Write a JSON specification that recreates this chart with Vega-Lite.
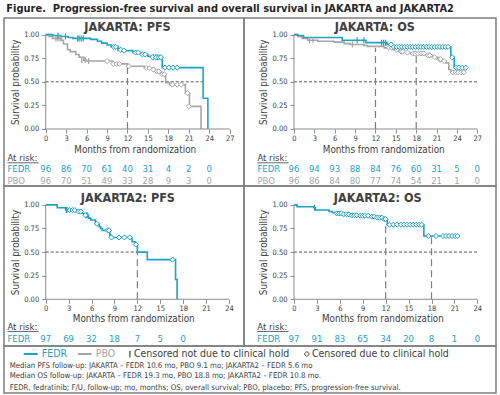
{
"$schema": "https://vega.github.io/schema/vega-lite/v6.json",
"padding": {"left": 3, "top": 3, "right": 4, "bottom": 2},
"background": "white",
"title": {"text": "Figure.\u00a0 Progression-free survival and overall survival in JAKARTA and JAKARTA2", "anchor": "start", "fontSize": 11, "fontWeight": "bold", "color": "#262626", "offset": 3, "dx": 3},
"datasets": {
"km": [
{"p":"A","arm":"FEDR","month":0,"surv":1},{"p":"A","arm":"FEDR","month":1.0,"surv":0.99},{"p":"A","arm":"FEDR","month":2.2,"surv":0.98},{"p":"A","arm":"FEDR","month":3.3,"surv":0.97},{"p":"A","arm":"FEDR","month":4.0,"surv":0.96},{"p":"A","arm":"FEDR","month":6.6,"surv":0.95},{"p":"A","arm":"FEDR","month":7.6,"surv":0.93},{"p":"A","arm":"FEDR","month":8.2,"surv":0.91},{"p":"A","arm":"FEDR","month":9.0,"surv":0.89},{"p":"A","arm":"FEDR","month":9.6,"surv":0.87},{"p":"A","arm":"FEDR","month":10.4,"surv":0.855},{"p":"A","arm":"FEDR","month":10.9,"surv":0.84},{"p":"A","arm":"FEDR","month":11.3,"surv":0.83},{"p":"A","arm":"FEDR","month":12.8,"surv":0.81},{"p":"A","arm":"FEDR","month":14.0,"surv":0.79},{"p":"A","arm":"FEDR","month":15.0,"surv":0.77},{"p":"A","arm":"FEDR","month":15.5,"surv":0.76},{"p":"A","arm":"FEDR","month":17.1,"surv":0.65},{"p":"A","arm":"FEDR","month":23.1,"surv":0.325},{"p":"A","arm":"FEDR","month":23.8,"surv":0},
{"p":"A","arm":"PBO","month":0,"surv":1},{"p":"A","arm":"PBO","month":0.5,"surv":0.98},{"p":"A","arm":"PBO","month":1.0,"surv":0.96},{"p":"A","arm":"PBO","month":2.3,"surv":0.94},{"p":"A","arm":"PBO","month":2.6,"surv":0.9},{"p":"A","arm":"PBO","month":3.2,"surv":0.84},{"p":"A","arm":"PBO","month":3.6,"surv":0.82},{"p":"A","arm":"PBO","month":4.4,"surv":0.79},{"p":"A","arm":"PBO","month":4.9,"surv":0.76},{"p":"A","arm":"PBO","month":5.6,"surv":0.73},{"p":"A","arm":"PBO","month":6.0,"surv":0.72},{"p":"A","arm":"PBO","month":9.8,"surv":0.69},{"p":"A","arm":"PBO","month":12.0,"surv":0.665},{"p":"A","arm":"PBO","month":14.5,"surv":0.645},{"p":"A","arm":"PBO","month":15.6,"surv":0.63},{"p":"A","arm":"PBO","month":16.1,"surv":0.61},{"p":"A","arm":"PBO","month":16.9,"surv":0.58},{"p":"A","arm":"PBO","month":17.6,"surv":0.49},{"p":"A","arm":"PBO","month":18.2,"surv":0.47},{"p":"A","arm":"PBO","month":20.5,"surv":0.38},{"p":"A","arm":"PBO","month":21.1,"surv":0.24},{"p":"A","arm":"PBO","month":22.8,"surv":0},
{"p":"B","arm":"FEDR","month":0,"surv":1},{"p":"B","arm":"FEDR","month":0.5,"surv":0.99},{"p":"B","arm":"FEDR","month":1.4,"surv":0.97},{"p":"B","arm":"FEDR","month":7.1,"surv":0.94},{"p":"B","arm":"FEDR","month":10.6,"surv":0.915},{"p":"B","arm":"FEDR","month":13.7,"surv":0.895},{"p":"B","arm":"FEDR","month":14.5,"surv":0.87},{"p":"B","arm":"FEDR","month":23.1,"surv":0.76},{"p":"B","arm":"FEDR","month":23.6,"surv":0.65},{"p":"B","arm":"FEDR","month":25.3,"surv":0.65},
{"p":"B","arm":"PBO","month":0,"surv":1},{"p":"B","arm":"PBO","month":0.6,"surv":0.98},{"p":"B","arm":"PBO","month":1.2,"surv":0.96},{"p":"B","arm":"PBO","month":2.0,"surv":0.94},{"p":"B","arm":"PBO","month":3.5,"surv":0.93},{"p":"B","arm":"PBO","month":5.9,"surv":0.92},{"p":"B","arm":"PBO","month":7.4,"surv":0.905},{"p":"B","arm":"PBO","month":8.3,"surv":0.895},{"p":"B","arm":"PBO","month":10.3,"surv":0.885},{"p":"B","arm":"PBO","month":10.8,"surv":0.875},{"p":"B","arm":"PBO","month":13.3,"surv":0.86},{"p":"B","arm":"PBO","month":14.7,"surv":0.84},{"p":"B","arm":"PBO","month":15.5,"surv":0.82},{"p":"B","arm":"PBO","month":16.3,"surv":0.81},{"p":"B","arm":"PBO","month":17.2,"surv":0.8},{"p":"B","arm":"PBO","month":19.4,"surv":0.78},{"p":"B","arm":"PBO","month":20.4,"surv":0.76},{"p":"B","arm":"PBO","month":21.1,"surv":0.74},{"p":"B","arm":"PBO","month":21.8,"surv":0.72},{"p":"B","arm":"PBO","month":22.4,"surv":0.7},{"p":"B","arm":"PBO","month":22.8,"surv":0.63},{"p":"B","arm":"PBO","month":23.1,"surv":0.6},{"p":"B","arm":"PBO","month":25.0,"surv":0.6},
{"p":"C","arm":"FEDR","month":0,"surv":1},{"p":"C","arm":"FEDR","month":1.5,"surv":0.97},{"p":"C","arm":"FEDR","month":2.6,"surv":0.945},{"p":"C","arm":"FEDR","month":4.1,"surv":0.93},{"p":"C","arm":"FEDR","month":4.8,"surv":0.91},{"p":"C","arm":"FEDR","month":5.0,"surv":0.89},{"p":"C","arm":"FEDR","month":5.6,"surv":0.86},{"p":"C","arm":"FEDR","month":5.9,"surv":0.84},{"p":"C","arm":"FEDR","month":6.5,"surv":0.8},{"p":"C","arm":"FEDR","month":7.0,"surv":0.77},{"p":"C","arm":"FEDR","month":7.2,"surv":0.75},{"p":"C","arm":"FEDR","month":7.4,"surv":0.73},{"p":"C","arm":"FEDR","month":8.4,"surv":0.68},{"p":"C","arm":"FEDR","month":8.5,"surv":0.655},{"p":"C","arm":"FEDR","month":11.3,"surv":0.61},{"p":"C","arm":"FEDR","month":11.7,"surv":0.58},{"p":"C","arm":"FEDR","month":12.0,"surv":0.5},{"p":"C","arm":"FEDR","month":13.3,"surv":0.42},{"p":"C","arm":"FEDR","month":17.0,"surv":0.21},{"p":"C","arm":"FEDR","month":17.2,"surv":0},
{"p":"D","arm":"FEDR","month":0,"surv":1},{"p":"D","arm":"FEDR","month":0.4,"surv":0.98},{"p":"D","arm":"FEDR","month":2.6,"surv":0.97},{"p":"D","arm":"FEDR","month":2.8,"surv":0.945},{"p":"D","arm":"FEDR","month":4.6,"surv":0.93},{"p":"D","arm":"FEDR","month":5.0,"surv":0.92},{"p":"D","arm":"FEDR","month":5.5,"surv":0.91},{"p":"D","arm":"FEDR","month":6.3,"surv":0.9},{"p":"D","arm":"FEDR","month":7.4,"surv":0.89},{"p":"D","arm":"FEDR","month":8.5,"surv":0.885},{"p":"D","arm":"FEDR","month":10.0,"surv":0.875},{"p":"D","arm":"FEDR","month":10.7,"surv":0.865},{"p":"D","arm":"FEDR","month":11.6,"surv":0.85},{"p":"D","arm":"FEDR","month":12.2,"surv":0.79},{"p":"D","arm":"FEDR","month":17.0,"surv":0.67},{"p":"D","arm":"FEDR","month":21.4,"surv":0.67}
],
"cens": [
{"p":"A","arm":"PBO","kind":"other","month":1.5,"surv":0.96},{"p":"A","arm":"PBO","kind":"other","month":1.8,"surv":0.96},{"p":"A","arm":"PBO","kind":"other","month":2.1,"surv":0.96},{"p":"A","arm":"PBO","kind":"other","month":5.3,"surv":0.73},{"p":"A","arm":"PBO","kind":"other","month":5.8,"surv":0.73},{"p":"A","arm":"PBO","kind":"other","month":6.3,"surv":0.72},
{"p":"A","arm":"PBO","kind":"hold","month":9.0,"surv":0.72},{"p":"A","arm":"PBO","kind":"hold","month":9.9,"surv":0.69},{"p":"A","arm":"PBO","kind":"hold","month":10.4,"surv":0.69},{"p":"A","arm":"PBO","kind":"hold","month":10.8,"surv":0.69},{"p":"A","arm":"PBO","kind":"hold","month":12.2,"surv":0.665},{"p":"A","arm":"PBO","kind":"hold","month":14.8,"surv":0.645},{"p":"A","arm":"PBO","kind":"hold","month":15.2,"surv":0.645},{"p":"A","arm":"PBO","kind":"hold","month":15.8,"surv":0.63},{"p":"A","arm":"PBO","kind":"hold","month":16.3,"surv":0.61},{"p":"A","arm":"PBO","kind":"hold","month":16.6,"surv":0.61},{"p":"A","arm":"PBO","kind":"hold","month":17.1,"surv":0.58},{"p":"A","arm":"PBO","kind":"hold","month":17.4,"surv":0.58},{"p":"A","arm":"PBO","kind":"hold","month":18.6,"surv":0.47},{"p":"A","arm":"PBO","kind":"hold","month":19.3,"surv":0.47},{"p":"A","arm":"PBO","kind":"hold","month":19.9,"surv":0.47},{"p":"A","arm":"PBO","kind":"hold","month":20.8,"surv":0.38},{"p":"A","arm":"PBO","kind":"hold","month":21.0,"surv":0.24},
{"p":"A","arm":"FEDR","kind":"other","month":1.8,"surv":0.99},{"p":"A","arm":"FEDR","kind":"other","month":2.9,"surv":0.98},{"p":"A","arm":"FEDR","kind":"other","month":4.7,"surv":0.96},{"p":"A","arm":"FEDR","kind":"other","month":4.9,"surv":0.96},{"p":"A","arm":"FEDR","kind":"other","month":5.2,"surv":0.96},{"p":"A","arm":"FEDR","kind":"other","month":5.5,"surv":0.96},{"p":"A","arm":"FEDR","kind":"other","month":10.6,"surv":0.855},{"p":"A","arm":"FEDR","kind":"other","month":15.8,"surv":0.76},{"p":"A","arm":"FEDR","kind":"other","month":16.1,"surv":0.76},{"p":"A","arm":"FEDR","kind":"other","month":16.4,"surv":0.76},
{"p":"A","arm":"FEDR","kind":"hold","month":10.0,"surv":0.87},{"p":"A","arm":"FEDR","kind":"hold","month":10.3,"surv":0.87},{"p":"A","arm":"FEDR","kind":"hold","month":11.0,"surv":0.84},{"p":"A","arm":"FEDR","kind":"hold","month":11.5,"surv":0.83},{"p":"A","arm":"FEDR","kind":"hold","month":13.2,"surv":0.81},{"p":"A","arm":"FEDR","kind":"hold","month":13.6,"surv":0.81},{"p":"A","arm":"FEDR","kind":"hold","month":14.2,"surv":0.79},{"p":"A","arm":"FEDR","kind":"hold","month":14.6,"surv":0.79},{"p":"A","arm":"FEDR","kind":"hold","month":15.7,"surv":0.76},{"p":"A","arm":"FEDR","kind":"hold","month":16.2,"surv":0.76},{"p":"A","arm":"FEDR","kind":"hold","month":16.6,"surv":0.76},{"p":"A","arm":"FEDR","kind":"hold","month":16.9,"surv":0.76},{"p":"A","arm":"FEDR","kind":"hold","month":17.5,"surv":0.65},{"p":"A","arm":"FEDR","kind":"hold","month":18.1,"surv":0.65},{"p":"A","arm":"FEDR","kind":"hold","month":18.7,"surv":0.65},{"p":"A","arm":"FEDR","kind":"hold","month":19.3,"surv":0.65},
{"p":"B","arm":"PBO","kind":"other","month":2.3,"surv":0.94},{"p":"B","arm":"PBO","kind":"other","month":2.8,"surv":0.94},{"p":"B","arm":"PBO","kind":"other","month":8.6,"surv":0.895},
{"p":"B","arm":"PBO","kind":"hold","month":14.0,"surv":0.86},{"p":"B","arm":"PBO","kind":"hold","month":14.4,"surv":0.86},{"p":"B","arm":"PBO","kind":"hold","month":15.1,"surv":0.84},{"p":"B","arm":"PBO","kind":"hold","month":15.8,"surv":0.82},{"p":"B","arm":"PBO","kind":"hold","month":16.0,"surv":0.82},{"p":"B","arm":"PBO","kind":"hold","month":16.7,"surv":0.81},{"p":"B","arm":"PBO","kind":"hold","month":17.5,"surv":0.8},{"p":"B","arm":"PBO","kind":"hold","month":17.9,"surv":0.8},{"p":"B","arm":"PBO","kind":"hold","month":18.3,"surv":0.8},{"p":"B","arm":"PBO","kind":"hold","month":18.7,"surv":0.8},{"p":"B","arm":"PBO","kind":"hold","month":19.1,"surv":0.8},{"p":"B","arm":"PBO","kind":"hold","month":19.7,"surv":0.78},{"p":"B","arm":"PBO","kind":"hold","month":20.0,"surv":0.78},{"p":"B","arm":"PBO","kind":"hold","month":20.7,"surv":0.76},{"p":"B","arm":"PBO","kind":"hold","month":21.4,"surv":0.74},{"p":"B","arm":"PBO","kind":"hold","month":21.6,"surv":0.74},{"p":"B","arm":"PBO","kind":"hold","month":22.1,"surv":0.72},{"p":"B","arm":"PBO","kind":"hold","month":23.4,"surv":0.6},{"p":"B","arm":"PBO","kind":"hold","month":23.8,"surv":0.6},{"p":"B","arm":"PBO","kind":"hold","month":24.2,"surv":0.6},{"p":"B","arm":"PBO","kind":"hold","month":24.6,"surv":0.6},{"p":"B","arm":"PBO","kind":"hold","month":25.0,"surv":0.6},
{"p":"B","arm":"FEDR","kind":"other","month":9.3,"surv":0.94},{"p":"B","arm":"FEDR","kind":"other","month":10.3,"surv":0.94},{"p":"B","arm":"FEDR","kind":"other","month":12.9,"surv":0.915},{"p":"B","arm":"FEDR","kind":"other","month":13.2,"surv":0.915},{"p":"B","arm":"FEDR","kind":"other","month":13.5,"surv":0.915},
{"p":"B","arm":"FEDR","kind":"hold","month":14.3,"surv":0.895},{"p":"B","arm":"FEDR","kind":"hold","month":14.7,"surv":0.87},{"p":"B","arm":"FEDR","kind":"hold","month":15.1,"surv":0.87},{"p":"B","arm":"FEDR","kind":"hold","month":15.5,"surv":0.87},{"p":"B","arm":"FEDR","kind":"hold","month":15.9,"surv":0.87},{"p":"B","arm":"FEDR","kind":"hold","month":16.3,"surv":0.87},{"p":"B","arm":"FEDR","kind":"hold","month":16.7,"surv":0.87},{"p":"B","arm":"FEDR","kind":"hold","month":17.1,"surv":0.87},{"p":"B","arm":"FEDR","kind":"hold","month":17.5,"surv":0.87},{"p":"B","arm":"FEDR","kind":"hold","month":17.9,"surv":0.87},{"p":"B","arm":"FEDR","kind":"hold","month":18.3,"surv":0.87},{"p":"B","arm":"FEDR","kind":"hold","month":18.7,"surv":0.87},{"p":"B","arm":"FEDR","kind":"hold","month":19.1,"surv":0.87},{"p":"B","arm":"FEDR","kind":"hold","month":19.5,"surv":0.87},{"p":"B","arm":"FEDR","kind":"hold","month":19.9,"surv":0.87},{"p":"B","arm":"FEDR","kind":"hold","month":20.3,"surv":0.87},{"p":"B","arm":"FEDR","kind":"hold","month":20.7,"surv":0.87},{"p":"B","arm":"FEDR","kind":"hold","month":21.1,"surv":0.87},{"p":"B","arm":"FEDR","kind":"hold","month":21.5,"surv":0.87},{"p":"B","arm":"FEDR","kind":"hold","month":21.9,"surv":0.87},{"p":"B","arm":"FEDR","kind":"hold","month":22.3,"surv":0.87},{"p":"B","arm":"FEDR","kind":"hold","month":22.7,"surv":0.87},{"p":"B","arm":"FEDR","kind":"hold","month":23.3,"surv":0.76},{"p":"B","arm":"FEDR","kind":"hold","month":23.9,"surv":0.65},{"p":"B","arm":"FEDR","kind":"hold","month":24.3,"surv":0.65},{"p":"B","arm":"FEDR","kind":"hold","month":24.8,"surv":0.65},{"p":"B","arm":"FEDR","kind":"hold","month":25.3,"surv":0.65},
{"p":"C","arm":"FEDR","kind":"other","month":2.7,"surv":0.945},{"p":"C","arm":"FEDR","kind":"other","month":2.8,"surv":0.945},{"p":"C","arm":"FEDR","kind":"other","month":5.3,"surv":0.89},{"p":"C","arm":"FEDR","kind":"other","month":5.5,"surv":0.89},
{"p":"C","arm":"FEDR","kind":"hold","month":3.1,"surv":0.945},{"p":"C","arm":"FEDR","kind":"hold","month":3.5,"surv":0.945},{"p":"C","arm":"FEDR","kind":"hold","month":3.8,"surv":0.945},{"p":"C","arm":"FEDR","kind":"hold","month":4.3,"surv":0.93},{"p":"C","arm":"FEDR","kind":"hold","month":4.6,"surv":0.93},{"p":"C","arm":"FEDR","kind":"hold","month":5.2,"surv":0.89},{"p":"C","arm":"FEDR","kind":"hold","month":6.7,"surv":0.8},{"p":"C","arm":"FEDR","kind":"hold","month":8.1,"surv":0.73},{"p":"C","arm":"FEDR","kind":"hold","month":8.3,"surv":0.73},{"p":"C","arm":"FEDR","kind":"hold","month":8.6,"surv":0.655},{"p":"C","arm":"FEDR","kind":"hold","month":9.6,"surv":0.655},{"p":"C","arm":"FEDR","kind":"hold","month":10.3,"surv":0.655},{"p":"C","arm":"FEDR","kind":"hold","month":11.0,"surv":0.655},{"p":"C","arm":"FEDR","kind":"hold","month":11.8,"surv":0.58},{"p":"C","arm":"FEDR","kind":"hold","month":16.6,"surv":0.42},
{"p":"D","arm":"FEDR","kind":"other","month":2.7,"surv":0.97},
{"p":"D","arm":"FEDR","kind":"hold","month":5.6,"surv":0.91},{"p":"D","arm":"FEDR","kind":"hold","month":5.9,"surv":0.91},{"p":"D","arm":"FEDR","kind":"hold","month":6.2,"surv":0.91},{"p":"D","arm":"FEDR","kind":"hold","month":6.5,"surv":0.9},{"p":"D","arm":"FEDR","kind":"hold","month":6.9,"surv":0.9},{"p":"D","arm":"FEDR","kind":"hold","month":7.2,"surv":0.9},{"p":"D","arm":"FEDR","kind":"hold","month":7.6,"surv":0.89},{"p":"D","arm":"FEDR","kind":"hold","month":7.9,"surv":0.89},{"p":"D","arm":"FEDR","kind":"hold","month":8.2,"surv":0.89},{"p":"D","arm":"FEDR","kind":"hold","month":8.7,"surv":0.885},{"p":"D","arm":"FEDR","kind":"hold","month":9.0,"surv":0.885},{"p":"D","arm":"FEDR","kind":"hold","month":9.3,"surv":0.885},{"p":"D","arm":"FEDR","kind":"hold","month":9.7,"surv":0.885},{"p":"D","arm":"FEDR","kind":"hold","month":10.2,"surv":0.875},{"p":"D","arm":"FEDR","kind":"hold","month":10.5,"surv":0.875},{"p":"D","arm":"FEDR","kind":"hold","month":10.9,"surv":0.865},{"p":"D","arm":"FEDR","kind":"hold","month":11.2,"surv":0.865},{"p":"D","arm":"FEDR","kind":"hold","month":11.5,"surv":0.865},{"p":"D","arm":"FEDR","kind":"hold","month":11.8,"surv":0.85},{"p":"D","arm":"FEDR","kind":"hold","month":12.0,"surv":0.85},{"p":"D","arm":"FEDR","kind":"hold","month":12.5,"surv":0.79},{"p":"D","arm":"FEDR","kind":"hold","month":13.0,"surv":0.79},{"p":"D","arm":"FEDR","kind":"hold","month":13.5,"surv":0.79},{"p":"D","arm":"FEDR","kind":"hold","month":14.0,"surv":0.79},{"p":"D","arm":"FEDR","kind":"hold","month":14.4,"surv":0.79},{"p":"D","arm":"FEDR","kind":"hold","month":14.8,"surv":0.79},{"p":"D","arm":"FEDR","kind":"hold","month":15.2,"surv":0.79},{"p":"D","arm":"FEDR","kind":"hold","month":15.6,"surv":0.79},{"p":"D","arm":"FEDR","kind":"hold","month":16.0,"surv":0.79},{"p":"D","arm":"FEDR","kind":"hold","month":16.4,"surv":0.79},{"p":"D","arm":"FEDR","kind":"hold","month":16.7,"surv":0.79},{"p":"D","arm":"FEDR","kind":"hold","month":17.6,"surv":0.67},{"p":"D","arm":"FEDR","kind":"hold","month":18.6,"surv":0.67},{"p":"D","arm":"FEDR","kind":"hold","month":19.5,"surv":0.67},{"p":"D","arm":"FEDR","kind":"hold","month":19.9,"surv":0.67},{"p":"D","arm":"FEDR","kind":"hold","month":20.3,"surv":0.67},{"p":"D","arm":"FEDR","kind":"hold","month":20.7,"surv":0.67},{"p":"D","arm":"FEDR","kind":"hold","month":21.1,"surv":0.67},{"p":"D","arm":"FEDR","kind":"hold","month":21.4,"surv":0.67}
],
"risk": [
{"p":"A","arm":"FEDR","month":0,"n":96},{"p":"A","arm":"FEDR","month":3,"n":86},{"p":"A","arm":"FEDR","month":6,"n":70},{"p":"A","arm":"FEDR","month":9,"n":61},{"p":"A","arm":"FEDR","month":12,"n":40},{"p":"A","arm":"FEDR","month":15,"n":31},{"p":"A","arm":"FEDR","month":18,"n":4},{"p":"A","arm":"FEDR","month":21,"n":2},{"p":"A","arm":"FEDR","month":24,"n":0},
{"p":"A","arm":"PBO","month":0,"n":96},{"p":"A","arm":"PBO","month":3,"n":70},{"p":"A","arm":"PBO","month":6,"n":51},{"p":"A","arm":"PBO","month":9,"n":49},{"p":"A","arm":"PBO","month":12,"n":33},{"p":"A","arm":"PBO","month":15,"n":28},{"p":"A","arm":"PBO","month":18,"n":9},{"p":"A","arm":"PBO","month":21,"n":3},{"p":"A","arm":"PBO","month":24,"n":0},
{"p":"B","arm":"FEDR","month":0,"n":96},{"p":"B","arm":"FEDR","month":3,"n":94},{"p":"B","arm":"FEDR","month":6,"n":93},{"p":"B","arm":"FEDR","month":9,"n":88},{"p":"B","arm":"FEDR","month":12,"n":84},{"p":"B","arm":"FEDR","month":15,"n":76},{"p":"B","arm":"FEDR","month":18,"n":60},{"p":"B","arm":"FEDR","month":21,"n":31},{"p":"B","arm":"FEDR","month":24,"n":5},{"p":"B","arm":"FEDR","month":27,"n":0},
{"p":"B","arm":"PBO","month":0,"n":96},{"p":"B","arm":"PBO","month":3,"n":86},{"p":"B","arm":"PBO","month":6,"n":84},{"p":"B","arm":"PBO","month":9,"n":80},{"p":"B","arm":"PBO","month":12,"n":77},{"p":"B","arm":"PBO","month":15,"n":74},{"p":"B","arm":"PBO","month":18,"n":54},{"p":"B","arm":"PBO","month":21,"n":21},{"p":"B","arm":"PBO","month":24,"n":1},{"p":"B","arm":"PBO","month":27,"n":0},
{"p":"C","arm":"FEDR","month":0,"n":97},{"p":"C","arm":"FEDR","month":3,"n":69},{"p":"C","arm":"FEDR","month":6,"n":32},{"p":"C","arm":"FEDR","month":9,"n":18},{"p":"C","arm":"FEDR","month":12,"n":7},{"p":"C","arm":"FEDR","month":15,"n":5},{"p":"C","arm":"FEDR","month":18,"n":0},
{"p":"D","arm":"FEDR","month":0,"n":97},{"p":"D","arm":"FEDR","month":3,"n":91},{"p":"D","arm":"FEDR","month":6,"n":83},{"p":"D","arm":"FEDR","month":9,"n":65},{"p":"D","arm":"FEDR","month":12,"n":34},{"p":"D","arm":"FEDR","month":15,"n":20},{"p":"D","arm":"FEDR","month":18,"n":8},{"p":"D","arm":"FEDR","month":21,"n":1},{"p":"D","arm":"FEDR","month":24,"n":0}
],
"hline": [
{"p":"A","month":0,"month2":23.1,"surv":0.5},{"p":"B","month":0,"month2":27,"surv":0.5},{"p":"C","month":0,"month2":12,"surv":0.5},{"p":"D","month":0,"month2":24,"surv":0.5}
],
"vline": [
{"p":"A","month":12,"surv":0,"surv2":0.665},{"p":"B","month":12,"surv":0,"surv2":0.86},{"p":"B","month":18,"surv":0,"surv2":0.8},{"p":"C","month":12,"surv":0,"surv2":0.5},{"p":"D","month":12,"surv":0,"surv2":0.79},{"p":"D","month":18,"surv":0,"surv2":0.67}
],
"panels": [
{"p":"A","title":"JAKARTA: PFS"},{"p":"B","title":"JAKARTA: OS"},{"p":"C","title":"JAKARTA2: PFS"},{"p":"D","title":"JAKARTA2: OS"}
]
},
"spacing": 0,
"bounds": "flush",
"align": "each",
"columns": 2,
"concat": [
{"width": 240, "height": 168,
 "layer": [
  {"data": {"name": "hline"}, "transform": [{"filter": "datum.p=='A'"}], "mark": {"type": "rule", "strokeDash": [3,2], "strokeWidth": 1, "color": "#595959"},
   "encoding": {"x": {"field": "month", "type": "quantitative", "scale": {"domain": [-6.12, 29.1], "nice": false, "zero": false}, "axis": {"values": [0,3,6,9,12,15,18,21,24,27], "labelOverlap": false, "tickCount": 20, "title": "Months from randomization", "offset": -57, "titleX": 130.7}}, "x2": {"field": "month2"},
                "y": {"field": "surv", "type": "quantitative", "scale": {"domain": [-0.604, 1.176], "nice": false, "zero": false}, "axis": {"values": [0,0.25,0.5,0.75,1], "labelOverlap": false, "tickCount": 20, "format": ".2f", "title": "Survival probability", "offset": -41.7, "titleY": 63.8}}}},
  {"data": {"name": "vline"}, "transform": [{"filter": "datum.p=='A'"}], "mark": {"type": "rule", "strokeDash": [7,4], "strokeWidth": 1.2, "color": "#7F7F7F"}, "encoding": {"x": {"field": "month", "type": "quantitative", "axis": {"values": [0,3,6,9,12,15,18,21,24,27], "labelOverlap": false, "tickCount": 20, "title": "Months from randomization", "offset": -57, "titleX": 130.7}}, "y": {"field": "surv", "type": "quantitative", "axis": {"values": [0,0.25,0.5,0.75,1], "labelOverlap": false, "tickCount": 20, "format": ".2f", "title": "Survival probability", "offset": -41.7, "titleY": 63.8}}, "y2": {"field": "surv2"}}},
  {"data": {"name": "km"}, "transform": [{"filter": "datum.p=='A' && datum.arm=='PBO'"}], "mark": {"type": "line", "interpolate": "step-after", "strokeWidth": 1.6}, "encoding": {"x": {"field": "month", "type": "quantitative", "axis": {"values": [0,3,6,9,12,15,18,21,24,27], "labelOverlap": false, "tickCount": 20, "title": "Months from randomization", "offset": -57, "titleX": 130.7}}, "y": {"field": "surv", "type": "quantitative", "axis": {"values": [0,0.25,0.5,0.75,1], "labelOverlap": false, "tickCount": 20, "format": ".2f", "title": "Survival probability", "offset": -41.7, "titleY": 63.8}}, "color": {"field": "arm", "type": "nominal", "scale": {"domain": ["FEDR","PBO"], "range": ["#1FA2C2","#A6A6A6"]}, "legend": null}}},
  {"data": {"name": "km"}, "transform": [{"filter": "datum.p=='A' && datum.arm=='FEDR'"}], "mark": {"type": "line", "interpolate": "step-after", "strokeWidth": 1.6}, "encoding": {"x": {"field": "month", "type": "quantitative", "axis": {"values": [0,3,6,9,12,15,18,21,24,27], "labelOverlap": false, "tickCount": 20, "title": "Months from randomization", "offset": -57, "titleX": 130.7}}, "y": {"field": "surv", "type": "quantitative", "axis": {"values": [0,0.25,0.5,0.75,1], "labelOverlap": false, "tickCount": 20, "format": ".2f", "title": "Survival probability", "offset": -41.7, "titleY": 63.8}}, "color": {"field": "arm", "type": "nominal", "legend": null}}},
  {"data": {"name": "cens"}, "transform": [{"filter": "datum.p=='A' && datum.kind=='other'"}], "mark": {"type": "point", "shape": "M0,-1L0,1", "size": 36, "filled": false, "strokeWidth": 1.2, "opacity": 1}, "encoding": {"x": {"field": "month", "type": "quantitative", "axis": {"values": [0,3,6,9,12,15,18,21,24,27], "labelOverlap": false, "tickCount": 20, "title": "Months from randomization", "offset": -57, "titleX": 130.7}}, "y": {"field": "surv", "type": "quantitative", "axis": {"values": [0,0.25,0.5,0.75,1], "labelOverlap": false, "tickCount": 20, "format": ".2f", "title": "Survival probability", "offset": -41.7, "titleY": 63.8}}, "color": {"field": "arm", "type": "nominal", "legend": null}}},
  {"data": {"name": "cens"}, "transform": [{"filter": "datum.p=='A' && datum.kind=='hold'"}], "mark": {"type": "point", "shape": "diamond", "size": 26, "filled": true, "fill": "white", "strokeWidth": 1, "opacity": 1}, "encoding": {"x": {"field": "month", "type": "quantitative", "axis": {"values": [0,3,6,9,12,15,18,21,24,27], "labelOverlap": false, "tickCount": 20, "title": "Months from randomization", "offset": -57, "titleX": 130.7}}, "y": {"field": "surv", "type": "quantitative", "axis": {"values": [0,0.25,0.5,0.75,1], "labelOverlap": false, "tickCount": 20, "format": ".2f", "title": "Survival probability", "offset": -41.7, "titleY": 63.8}}, "stroke": {"field": "arm", "type": "nominal", "scale": {"domain": ["FEDR","PBO"], "range": ["#1FA2C2","#A6A6A6"]}, "legend": null}}},
  {"data": {"name": "risk"}, "transform": [{"filter": "datum.p=='A' && datum.arm=='FEDR'"}], "mark": {"type": "text", "fontSize": 9.5}, "encoding": {"x": {"field": "month", "type": "quantitative", "axis": {"values": [0,3,6,9,12,15,18,21,24,27], "labelOverlap": false, "tickCount": 20, "title": "Months from randomization", "offset": -57, "titleX": 130.7}}, "y": {"datum": -0.427}, "text": {"field": "n", "type": "nominal"}, "color": {"field": "arm", "type": "nominal", "legend": null}}},
  {"data": {"name": "risk"}, "transform": [{"filter": "datum.p=='A' && datum.arm=='PBO'"}], "mark": {"type": "text", "fontSize": 9.5}, "encoding": {"x": {"field": "month", "type": "quantitative", "axis": {"values": [0,3,6,9,12,15,18,21,24,27], "labelOverlap": false, "tickCount": 20, "title": "Months from randomization", "offset": -57, "titleX": 130.7}}, "y": {"datum": -0.554}, "text": {"field": "n", "type": "nominal"}, "color": {"field": "arm", "type": "nominal", "legend": null}}},
  {"data": {"values": [{}]}, "mark": {"type": "rule", "strokeWidth": 1, "color": "#8C8C8C"}, "encoding": {"x": {"datum": 0}, "y": {"datum": 0}, "y2": {"datum": 1}}},
  {"data": {"values": [{}]}, "mark": {"type": "rule", "strokeWidth": 1, "color": "#8C8C8C"}, "encoding": {"x": {"datum": 0}, "x2": {"datum": 27}, "y": {"datum": 0}}},
  {"data": {"name": "risk"}, "transform": [{"filter": "datum.p=='A' && datum.arm=='FEDR' && datum.month==0"}], "mark": {"type": "text", "fontSize": 9.5, "align": "left"}, "encoding": {"x": {"datum": -5.62}, "y": {"datum": -0.427}, "text": {"field": "arm"}, "color": {"field": "arm", "type": "nominal", "legend": null}}},
  {"data": {"name": "risk"}, "transform": [{"filter": "datum.p=='A' && datum.arm=='PBO' && datum.month==0"}], "mark": {"type": "text", "fontSize": 9.5, "align": "left"}, "encoding": {"x": {"datum": -5.62}, "y": {"datum": -0.554}, "text": {"field": "arm"}, "color": {"field": "arm", "type": "nominal", "legend": null}}},
  {"data": {"values": [{"t": "At risk:"}]}, "mark": {"type": "text", "fontSize": 9.5, "align": "left", "color": "#404040"}, "encoding": {"x": {"datum": -5.62}, "y": {"datum": -0.31}, "text": {"field": "t"}}},
  {"data": {"values": [{}]}, "mark": {"type": "rule", "strokeWidth": 0.8, "color": "#404040"}, "encoding": {"x": {"datum": -5.62}, "x2": {"datum": -1.03}, "y": {"datum": -0.358}}},
  {"data": {"name": "panels"}, "transform": [{"filter": "datum.p=='A'"}], "mark": {"type": "text", "fontSize": 12.5, "fontWeight": "bold", "color": "#404040"}, "encoding": {"x": {"datum": 12}, "y": {"datum": 1.085}, "text": {"field": "title"}}}
 ]
},
{"width": 252, "height": 168,
 "layer": [
  {"data": {"name": "hline"}, "transform": [{"filter": "datum.p=='B'"}], "mark": {"type": "rule", "strokeDash": [3,2], "strokeWidth": 1, "color": "#595959"},
   "encoding": {"x": {"field": "month", "type": "quantitative", "scale": {"domain": [-7.36, 29.75], "nice": false, "zero": false}, "axis": {"values": [0,3,6,9,12,15,18,21,24,27], "labelOverlap": false, "tickCount": 20, "title": "Months from randomization", "offset": -57, "titleX": 139.2}}, "x2": {"field": "month2"},
                "y": {"field": "surv", "type": "quantitative", "scale": {"domain": [-0.604, 1.176], "nice": false, "zero": false}, "axis": {"values": [0,0.25,0.5,0.75,1], "labelOverlap": false, "tickCount": 20, "format": ".2f", "title": "Survival probability", "offset": -50, "titleY": 63.8}}}},
  {"data": {"name": "vline"}, "transform": [{"filter": "datum.p=='B'"}], "mark": {"type": "rule", "strokeDash": [7,4], "strokeWidth": 1.2, "color": "#7F7F7F"}, "encoding": {"x": {"field": "month", "type": "quantitative", "axis": {"values": [0,3,6,9,12,15,18,21,24,27], "labelOverlap": false, "tickCount": 20, "title": "Months from randomization", "offset": -57, "titleX": 139.2}}, "y": {"field": "surv", "type": "quantitative", "axis": {"values": [0,0.25,0.5,0.75,1], "labelOverlap": false, "tickCount": 20, "format": ".2f", "title": "Survival probability", "offset": -50, "titleY": 63.8}}, "y2": {"field": "surv2"}}},
  {"data": {"name": "km"}, "transform": [{"filter": "datum.p=='B' && datum.arm=='PBO'"}], "mark": {"type": "line", "interpolate": "step-after", "strokeWidth": 1.6}, "encoding": {"x": {"field": "month", "type": "quantitative", "axis": {"values": [0,3,6,9,12,15,18,21,24,27], "labelOverlap": false, "tickCount": 20, "title": "Months from randomization", "offset": -57, "titleX": 139.2}}, "y": {"field": "surv", "type": "quantitative", "axis": {"values": [0,0.25,0.5,0.75,1], "labelOverlap": false, "tickCount": 20, "format": ".2f", "title": "Survival probability", "offset": -50, "titleY": 63.8}}, "color": {"field": "arm", "type": "nominal", "scale": {"domain": ["FEDR","PBO"], "range": ["#1FA2C2","#A6A6A6"]}, "legend": null}}},
  {"data": {"name": "km"}, "transform": [{"filter": "datum.p=='B' && datum.arm=='FEDR'"}], "mark": {"type": "line", "interpolate": "step-after", "strokeWidth": 1.6}, "encoding": {"x": {"field": "month", "type": "quantitative", "axis": {"values": [0,3,6,9,12,15,18,21,24,27], "labelOverlap": false, "tickCount": 20, "title": "Months from randomization", "offset": -57, "titleX": 139.2}}, "y": {"field": "surv", "type": "quantitative", "axis": {"values": [0,0.25,0.5,0.75,1], "labelOverlap": false, "tickCount": 20, "format": ".2f", "title": "Survival probability", "offset": -50, "titleY": 63.8}}, "color": {"field": "arm", "type": "nominal", "legend": null}}},
  {"data": {"name": "cens"}, "transform": [{"filter": "datum.p=='B' && datum.kind=='other'"}], "mark": {"type": "point", "shape": "M0,-1L0,1", "size": 36, "filled": false, "strokeWidth": 1.2, "opacity": 1}, "encoding": {"x": {"field": "month", "type": "quantitative", "axis": {"values": [0,3,6,9,12,15,18,21,24,27], "labelOverlap": false, "tickCount": 20, "title": "Months from randomization", "offset": -57, "titleX": 139.2}}, "y": {"field": "surv", "type": "quantitative", "axis": {"values": [0,0.25,0.5,0.75,1], "labelOverlap": false, "tickCount": 20, "format": ".2f", "title": "Survival probability", "offset": -50, "titleY": 63.8}}, "color": {"field": "arm", "type": "nominal", "legend": null}}},
  {"data": {"name": "cens"}, "transform": [{"filter": "datum.p=='B' && datum.kind=='hold'"}], "mark": {"type": "point", "shape": "diamond", "size": 26, "filled": true, "fill": "white", "strokeWidth": 1, "opacity": 1}, "encoding": {"x": {"field": "month", "type": "quantitative", "axis": {"values": [0,3,6,9,12,15,18,21,24,27], "labelOverlap": false, "tickCount": 20, "title": "Months from randomization", "offset": -57, "titleX": 139.2}}, "y": {"field": "surv", "type": "quantitative", "axis": {"values": [0,0.25,0.5,0.75,1], "labelOverlap": false, "tickCount": 20, "format": ".2f", "title": "Survival probability", "offset": -50, "titleY": 63.8}}, "stroke": {"field": "arm", "type": "nominal", "scale": {"domain": ["FEDR","PBO"], "range": ["#1FA2C2","#A6A6A6"]}, "legend": null}}},
  {"data": {"name": "risk"}, "transform": [{"filter": "datum.p=='B' && datum.arm=='FEDR'"}], "mark": {"type": "text", "fontSize": 9.5}, "encoding": {"x": {"field": "month", "type": "quantitative", "axis": {"values": [0,3,6,9,12,15,18,21,24,27], "labelOverlap": false, "tickCount": 20, "title": "Months from randomization", "offset": -57, "titleX": 139.2}}, "y": {"datum": -0.427}, "text": {"field": "n", "type": "nominal"}, "color": {"field": "arm", "type": "nominal", "legend": null}}},
  {"data": {"name": "risk"}, "transform": [{"filter": "datum.p=='B' && datum.arm=='PBO'"}], "mark": {"type": "text", "fontSize": 9.5}, "encoding": {"x": {"field": "month", "type": "quantitative", "axis": {"values": [0,3,6,9,12,15,18,21,24,27], "labelOverlap": false, "tickCount": 20, "title": "Months from randomization", "offset": -57, "titleX": 139.2}}, "y": {"datum": -0.554}, "text": {"field": "n", "type": "nominal"}, "color": {"field": "arm", "type": "nominal", "legend": null}}},
  {"data": {"values": [{}]}, "mark": {"type": "rule", "strokeWidth": 1, "color": "#8C8C8C"}, "encoding": {"x": {"datum": 0}, "y": {"datum": 0}, "y2": {"datum": 1}}},
  {"data": {"values": [{}]}, "mark": {"type": "rule", "strokeWidth": 1, "color": "#8C8C8C"}, "encoding": {"x": {"datum": 0}, "x2": {"datum": 27}, "y": {"datum": 0}}},
  {"data": {"name": "risk"}, "transform": [{"filter": "datum.p=='B' && datum.arm=='FEDR' && datum.month==0"}], "mark": {"type": "text", "fontSize": 9.5, "align": "left"}, "encoding": {"x": {"datum": -5.39}, "y": {"datum": -0.427}, "text": {"field": "arm"}, "color": {"field": "arm", "type": "nominal", "legend": null}}},
  {"data": {"name": "risk"}, "transform": [{"filter": "datum.p=='B' && datum.arm=='PBO' && datum.month==0"}], "mark": {"type": "text", "fontSize": 9.5, "align": "left"}, "encoding": {"x": {"datum": -5.39}, "y": {"datum": -0.554}, "text": {"field": "arm"}, "color": {"field": "arm", "type": "nominal", "legend": null}}},
  {"data": {"values": [{"t": "At risk:"}]}, "mark": {"type": "text", "fontSize": 9.5, "align": "left", "color": "#404040"}, "encoding": {"x": {"datum": -5.39}, "y": {"datum": -0.31}, "text": {"field": "t"}}},
  {"data": {"values": [{}]}, "mark": {"type": "rule", "strokeWidth": 0.8, "color": "#404040"}, "encoding": {"x": {"datum": -5.39}, "x2": {"datum": -0.78}, "y": {"datum": -0.358}}},
  {"data": {"name": "panels"}, "transform": [{"filter": "datum.p=='B'"}], "mark": {"type": "text", "fontSize": 12.5, "fontWeight": "bold", "color": "#404040"}, "encoding": {"x": {"datum": 11.9}, "y": {"datum": 1.085}, "text": {"field": "title"}}}
 ]
},
{"width": 240, "height": 160,
 "layer": [
  {"data": {"name": "hline"}, "transform": [{"filter": "datum.p=='C'"}], "mark": {"type": "rule", "strokeDash": [3,2], "strokeWidth": 1, "color": "#595959"},
   "encoding": {"x": {"field": "month", "type": "quantitative", "scale": {"domain": [-5.46, 25.96], "nice": false, "zero": false}, "axis": {"values": [0,3,6,9,12,15,18,21,24], "labelOverlap": false, "tickCount": 20, "title": "Months from randomization", "offset": -46.7, "titleX": 129.2, "labelPadding": 1, "titlePadding": 2}}, "x2": {"field": "month2"},
                "y": {"field": "surv", "type": "quantitative", "scale": {"domain": [-0.495, 1.2], "nice": false, "zero": false}, "axis": {"values": [0,0.25,0.5,0.75,1], "labelOverlap": false, "tickCount": 20, "format": ".2f", "title": "Survival probability", "offset": -41.7, "titleY": 66}}}},
  {"data": {"name": "vline"}, "transform": [{"filter": "datum.p=='C'"}], "mark": {"type": "rule", "strokeDash": [7,4], "strokeWidth": 1.2, "color": "#7F7F7F"}, "encoding": {"x": {"field": "month", "type": "quantitative", "axis": {"values": [0,3,6,9,12,15,18,21,24], "labelOverlap": false, "tickCount": 20, "title": "Months from randomization", "offset": -46.7, "titleX": 129.2, "labelPadding": 1, "titlePadding": 2}}, "y": {"field": "surv", "type": "quantitative", "axis": {"values": [0,0.25,0.5,0.75,1], "labelOverlap": false, "tickCount": 20, "format": ".2f", "title": "Survival probability", "offset": -41.7, "titleY": 66}}, "y2": {"field": "surv2"}}},
  {"data": {"name": "km"}, "transform": [{"filter": "datum.p=='C'"}], "mark": {"type": "line", "interpolate": "step-after", "strokeWidth": 1.6}, "encoding": {"x": {"field": "month", "type": "quantitative", "axis": {"values": [0,3,6,9,12,15,18,21,24], "labelOverlap": false, "tickCount": 20, "title": "Months from randomization", "offset": -46.7, "titleX": 129.2, "labelPadding": 1, "titlePadding": 2}}, "y": {"field": "surv", "type": "quantitative", "axis": {"values": [0,0.25,0.5,0.75,1], "labelOverlap": false, "tickCount": 20, "format": ".2f", "title": "Survival probability", "offset": -41.7, "titleY": 66}}, "color": {"field": "arm", "type": "nominal", "scale": {"domain": ["FEDR","PBO"], "range": ["#1FA2C2","#A6A6A6"]}, "legend": null}}},
  {"data": {"name": "cens"}, "transform": [{"filter": "datum.p=='C' && datum.kind=='other'"}], "mark": {"type": "point", "shape": "M0,-1L0,1", "size": 36, "filled": false, "strokeWidth": 1.2, "opacity": 1}, "encoding": {"x": {"field": "month", "type": "quantitative", "axis": {"values": [0,3,6,9,12,15,18,21,24], "labelOverlap": false, "tickCount": 20, "title": "Months from randomization", "offset": -46.7, "titleX": 129.2, "labelPadding": 1, "titlePadding": 2}}, "y": {"field": "surv", "type": "quantitative", "axis": {"values": [0,0.25,0.5,0.75,1], "labelOverlap": false, "tickCount": 20, "format": ".2f", "title": "Survival probability", "offset": -41.7, "titleY": 66}}, "color": {"field": "arm", "type": "nominal", "legend": null}}},
  {"data": {"name": "cens"}, "transform": [{"filter": "datum.p=='C' && datum.kind=='hold'"}], "mark": {"type": "point", "shape": "diamond", "size": 26, "filled": true, "fill": "white", "strokeWidth": 1, "opacity": 1}, "encoding": {"x": {"field": "month", "type": "quantitative", "axis": {"values": [0,3,6,9,12,15,18,21,24], "labelOverlap": false, "tickCount": 20, "title": "Months from randomization", "offset": -46.7, "titleX": 129.2, "labelPadding": 1, "titlePadding": 2}}, "y": {"field": "surv", "type": "quantitative", "axis": {"values": [0,0.25,0.5,0.75,1], "labelOverlap": false, "tickCount": 20, "format": ".2f", "title": "Survival probability", "offset": -41.7, "titleY": 66}}, "stroke": {"field": "arm", "type": "nominal", "scale": {"domain": ["FEDR","PBO"], "range": ["#1FA2C2","#A6A6A6"]}, "legend": null}}},
  {"data": {"name": "risk"}, "transform": [{"filter": "datum.p=='C'"}], "mark": {"type": "text", "fontSize": 9.5}, "encoding": {"x": {"field": "month", "type": "quantitative", "axis": {"values": [0,3,6,9,12,15,18,21,24], "labelOverlap": false, "tickCount": 20, "title": "Months from randomization", "offset": -46.7, "titleX": 129.2, "labelPadding": 1, "titlePadding": 2}}, "y": {"datum": -0.424}, "text": {"field": "n", "type": "nominal"}, "color": {"field": "arm", "type": "nominal", "legend": null}}},
  {"data": {"values": [{}]}, "mark": {"type": "rule", "strokeWidth": 1, "color": "#8C8C8C"}, "encoding": {"x": {"datum": 0}, "y": {"datum": 0}, "y2": {"datum": 1}}},
  {"data": {"values": [{}]}, "mark": {"type": "rule", "strokeWidth": 1, "color": "#8C8C8C"}, "encoding": {"x": {"datum": 0}, "x2": {"datum": 24}, "y": {"datum": 0}}},
  {"data": {"name": "risk"}, "transform": [{"filter": "datum.p=='C' && datum.month==0"}], "mark": {"type": "text", "fontSize": 9.5, "align": "left"}, "encoding": {"x": {"datum": -5.01}, "y": {"datum": -0.424}, "text": {"field": "arm"}, "color": {"field": "arm", "type": "nominal", "legend": null}}},
  {"data": {"values": [{"t": "At risk:"}]}, "mark": {"type": "text", "fontSize": 9.5, "align": "left", "color": "#404040"}, "encoding": {"x": {"datum": -5.01}, "y": {"datum": -0.293}, "text": {"field": "t"}}},
  {"data": {"values": [{}]}, "mark": {"type": "rule", "strokeWidth": 0.8, "color": "#404040"}, "encoding": {"x": {"datum": -5.01}, "x2": {"datum": -0.92}, "y": {"datum": -0.341}}},
  {"data": {"name": "panels"}, "transform": [{"filter": "datum.p=='C'"}], "mark": {"type": "text", "fontSize": 12.5, "fontWeight": "bold", "color": "#404040"}, "encoding": {"x": {"datum": 10.76}, "y": {"datum": 1.068}, "text": {"field": "title"}}}
 ]
},
{"width": 252, "height": 160,
 "layer": [
  {"data": {"name": "hline"}, "transform": [{"filter": "datum.p=='D'"}], "mark": {"type": "rule", "strokeDash": [3,2], "strokeWidth": 1, "color": "#595959"},
   "encoding": {"x": {"field": "month", "type": "quantitative", "scale": {"domain": [-6.54, 26.44], "nice": false, "zero": false}, "axis": {"values": [0,3,6,9,12,15,18,21,24], "labelOverlap": false, "tickCount": 20, "title": "Months from randomization", "offset": -46.7, "titleX": 138.4, "labelPadding": 1, "titlePadding": 2}}, "x2": {"field": "month2"},
                "y": {"field": "surv", "type": "quantitative", "scale": {"domain": [-0.495, 1.2], "nice": false, "zero": false}, "axis": {"values": [0,0.25,0.5,0.75,1], "labelOverlap": false, "tickCount": 20, "format": ".2f", "title": "Survival probability", "offset": -50, "titleY": 66}}}},
  {"data": {"name": "vline"}, "transform": [{"filter": "datum.p=='D'"}], "mark": {"type": "rule", "strokeDash": [7,4], "strokeWidth": 1.2, "color": "#7F7F7F"}, "encoding": {"x": {"field": "month", "type": "quantitative", "axis": {"values": [0,3,6,9,12,15,18,21,24], "labelOverlap": false, "tickCount": 20, "title": "Months from randomization", "offset": -46.7, "titleX": 138.4, "labelPadding": 1, "titlePadding": 2}}, "y": {"field": "surv", "type": "quantitative", "axis": {"values": [0,0.25,0.5,0.75,1], "labelOverlap": false, "tickCount": 20, "format": ".2f", "title": "Survival probability", "offset": -50, "titleY": 66}}, "y2": {"field": "surv2"}}},
  {"data": {"name": "km"}, "transform": [{"filter": "datum.p=='D'"}], "mark": {"type": "line", "interpolate": "step-after", "strokeWidth": 1.6}, "encoding": {"x": {"field": "month", "type": "quantitative", "axis": {"values": [0,3,6,9,12,15,18,21,24], "labelOverlap": false, "tickCount": 20, "title": "Months from randomization", "offset": -46.7, "titleX": 138.4, "labelPadding": 1, "titlePadding": 2}}, "y": {"field": "surv", "type": "quantitative", "axis": {"values": [0,0.25,0.5,0.75,1], "labelOverlap": false, "tickCount": 20, "format": ".2f", "title": "Survival probability", "offset": -50, "titleY": 66}}, "color": {"field": "arm", "type": "nominal", "scale": {"domain": ["FEDR","PBO"], "range": ["#1FA2C2","#A6A6A6"]}, "legend": null}}},
  {"data": {"name": "cens"}, "transform": [{"filter": "datum.p=='D' && datum.kind=='other'"}], "mark": {"type": "point", "shape": "M0,-1L0,1", "size": 36, "filled": false, "strokeWidth": 1.2, "opacity": 1}, "encoding": {"x": {"field": "month", "type": "quantitative", "axis": {"values": [0,3,6,9,12,15,18,21,24], "labelOverlap": false, "tickCount": 20, "title": "Months from randomization", "offset": -46.7, "titleX": 138.4, "labelPadding": 1, "titlePadding": 2}}, "y": {"field": "surv", "type": "quantitative", "axis": {"values": [0,0.25,0.5,0.75,1], "labelOverlap": false, "tickCount": 20, "format": ".2f", "title": "Survival probability", "offset": -50, "titleY": 66}}, "color": {"field": "arm", "type": "nominal", "legend": null}}},
  {"data": {"name": "cens"}, "transform": [{"filter": "datum.p=='D' && datum.kind=='hold'"}], "mark": {"type": "point", "shape": "diamond", "size": 26, "filled": true, "fill": "white", "strokeWidth": 1, "opacity": 1}, "encoding": {"x": {"field": "month", "type": "quantitative", "axis": {"values": [0,3,6,9,12,15,18,21,24], "labelOverlap": false, "tickCount": 20, "title": "Months from randomization", "offset": -46.7, "titleX": 138.4, "labelPadding": 1, "titlePadding": 2}}, "y": {"field": "surv", "type": "quantitative", "axis": {"values": [0,0.25,0.5,0.75,1], "labelOverlap": false, "tickCount": 20, "format": ".2f", "title": "Survival probability", "offset": -50, "titleY": 66}}, "stroke": {"field": "arm", "type": "nominal", "scale": {"domain": ["FEDR","PBO"], "range": ["#1FA2C2","#A6A6A6"]}, "legend": null}}},
  {"data": {"name": "risk"}, "transform": [{"filter": "datum.p=='D'"}], "mark": {"type": "text", "fontSize": 9.5}, "encoding": {"x": {"field": "month", "type": "quantitative", "axis": {"values": [0,3,6,9,12,15,18,21,24], "labelOverlap": false, "tickCount": 20, "title": "Months from randomization", "offset": -46.7, "titleX": 138.4, "labelPadding": 1, "titlePadding": 2}}, "y": {"datum": -0.424}, "text": {"field": "n", "type": "nominal"}, "color": {"field": "arm", "type": "nominal", "legend": null}}},
  {"data": {"values": [{}]}, "mark": {"type": "rule", "strokeWidth": 1, "color": "#8C8C8C"}, "encoding": {"x": {"datum": 0}, "y": {"datum": 0}, "y2": {"datum": 1}}},
  {"data": {"values": [{}]}, "mark": {"type": "rule", "strokeWidth": 1, "color": "#8C8C8C"}, "encoding": {"x": {"datum": 0}, "x2": {"datum": 24}, "y": {"datum": 0}}},
  {"data": {"name": "risk"}, "transform": [{"filter": "datum.p=='D' && datum.month==0"}], "mark": {"type": "text", "fontSize": 9.5, "align": "left"}, "encoding": {"x": {"datum": -4.79}, "y": {"datum": -0.424}, "text": {"field": "arm"}, "color": {"field": "arm", "type": "nominal", "legend": null}}},
  {"data": {"values": [{"t": "At risk:"}]}, "mark": {"type": "text", "fontSize": 9.5, "align": "left", "color": "#404040"}, "encoding": {"x": {"datum": -4.79}, "y": {"datum": -0.293}, "text": {"field": "t"}}},
  {"data": {"values": [{}]}, "mark": {"type": "rule", "strokeWidth": 0.8, "color": "#404040"}, "encoding": {"x": {"datum": -4.79}, "x2": {"datum": -0.69}, "y": {"datum": -0.341}}},
  {"data": {"name": "panels"}, "transform": [{"filter": "datum.p=='D'"}], "mark": {"type": "text", "fontSize": 12.5, "fontWeight": "bold", "color": "#404040"}, "encoding": {"x": {"datum": 10.96}, "y": {"datum": 1.068}, "text": {"field": "title"}}}
 ]
},
{"width": 240, "height": 47, "view": {"stroke": null},
 "layer": [
  {"data": {"values": [{}]}, "mark": {"type": "rect", "filled": false, "color": "#7F7F7F", "strokeWidth": 1.5}, "encoding": {"x": {"datum": 0, "scale": {"domain": [0, 48.78], "nice": false, "zero": false}, "axis": null}, "x2": {"datum": 100}, "y": {"datum": 0, "scale": {"domain": [4.2, 0], "nice": false, "zero": false}, "axis": null}, "y2": {"datum": 4.2}}},
  {"data": {"values": [{"arm": "FEDR"}]}, "mark": {"type": "rule", "strokeWidth": 2}, "encoding": {"x": {"datum": 4.0, "axis": null}, "x2": {"datum": 6.85}, "y": {"datum": 0.715, "axis": null}, "color": {"field": "arm", "type": "nominal", "scale": {"domain": ["FEDR","PBO"], "range": ["#1FA2C2","#A6A6A6"]}, "legend": null}}},
  {"data": {"values": [{"arm": "FEDR"}]}, "mark": {"type": "text", "fontSize": 10.5, "align": "left"}, "encoding": {"x": {"datum": 7.67, "axis": null}, "y": {"datum": 0.715, "axis": null}, "text": {"field": "arm"}, "color": {"field": "arm", "type": "nominal", "legend": null}}},
  {"data": {"values": [{"arm": "PBO"}]}, "mark": {"type": "rule", "strokeWidth": 2}, "encoding": {"x": {"datum": 15.0, "axis": null}, "x2": {"datum": 17.8}, "y": {"datum": 0.715, "axis": null}, "color": {"field": "arm", "type": "nominal", "legend": null}}},
  {"data": {"values": [{"arm": "PBO"}]}, "mark": {"type": "text", "fontSize": 10.5, "align": "left"}, "encoding": {"x": {"datum": 18.67, "axis": null}, "y": {"datum": 0.715, "axis": null}, "text": {"field": "arm"}, "color": {"field": "arm", "type": "nominal", "legend": null}}},
  {"data": {"values": [{}]}, "mark": {"type": "point", "shape": "M0,-1L0,1", "size": 40, "filled": false, "strokeWidth": 1.2, "opacity": 1, "color": "#404040"}, "encoding": {"x": {"datum": 25.6, "axis": null}, "y": {"datum": 0.715, "axis": null}}},
  {"data": {"values": [{"t": "Censored not due to clinical hold"}]}, "mark": {"type": "text", "fontSize": 10.5, "align": "left", "color": "#404040"}, "encoding": {"x": {"datum": 26.4, "axis": null}, "y": {"datum": 0.715, "axis": null}, "text": {"field": "t"}}},
  {"data": {"values": [{}]}, "mark": {"type": "point", "shape": "diamond", "size": 26, "filled": true, "fill": "white", "stroke": "#404040", "strokeWidth": 1, "opacity": 1}, "encoding": {"x": {"datum": 61.56, "axis": null}, "y": {"datum": 0.715, "axis": null}}},
  {"data": {"values": [{"t": "Censored due to clinical hold"}]}, "mark": {"type": "text", "fontSize": 10.5, "align": "left", "color": "#404040"}, "encoding": {"x": {"datum": 62.58, "axis": null}, "y": {"datum": 0.715, "axis": null}, "text": {"field": "t"}}},
  {"data": {"values": [{"t": "Median PFS follow-up: JAKARTA \u2013 FEDR 10.6 mo, PBO 9.1 mo; JAKARTA2 \u2013 FEDR 5.6 mo"}]}, "mark": {"type": "text", "fontSize": 7.8, "align": "left", "color": "#404040"}, "encoding": {"x": {"datum": 1.16, "axis": null}, "y": {"datum": 1.787, "axis": null}, "text": {"field": "t"}}},
  {"data": {"values": [{"t": "Median OS follow-up: JAKARTA \u2013 FEDR 19.3 mo, PBO 18.8 mo; JAKARTA2 \u2013 FEDR 10.8 mo."}]}, "mark": {"type": "text", "fontSize": 7.8, "align": "left", "color": "#404040"}, "encoding": {"x": {"datum": 1.16, "axis": null}, "y": {"datum": 2.68, "axis": null}, "text": {"field": "t"}}},
  {"data": {"values": [{"t": "FEDR, fedratinib; F/U, follow-up; mo, months; OS, overall survival; PBO, placebo; PFS, progression-free survival."}]}, "mark": {"type": "text", "fontSize": 7.8, "align": "left", "color": "#404040"}, "encoding": {"x": {"datum": 1.16, "axis": null}, "y": {"datum": 3.73, "axis": null}, "text": {"field": "t"}}}
 ]
},
{"width": 252, "height": 47, "view": {"stroke": null},
 "data": {"values": [{"t": ""}]},
 "mark": {"type": "text"},
 "encoding": {"text": {"field": "t"}}
}
],
"config": {
 "font": "DejaVu Sans Condensed, DejaVu Sans",
 "view": {"stroke": "#7F7F7F", "strokeWidth": 1.5},
 "axis": {"domain": false, "grid": false, "tickSize": 4, "tickColor": "#8C8C8C", "tickWidth": 1, "labelFontSize": 7.5, "labelColor": "#404040", "labelFlush": false, "labelOverlap": false, "labelBound": false, "titleFontSize": 9.8, "titleFontWeight": "normal", "titleColor": "#404040"},
 "axisX": {"labelPadding": 1, "titlePadding": 3, "labelOverlap": false},
 "axisY": {"labelPadding": 3, "titlePadding": 3}
}
}
